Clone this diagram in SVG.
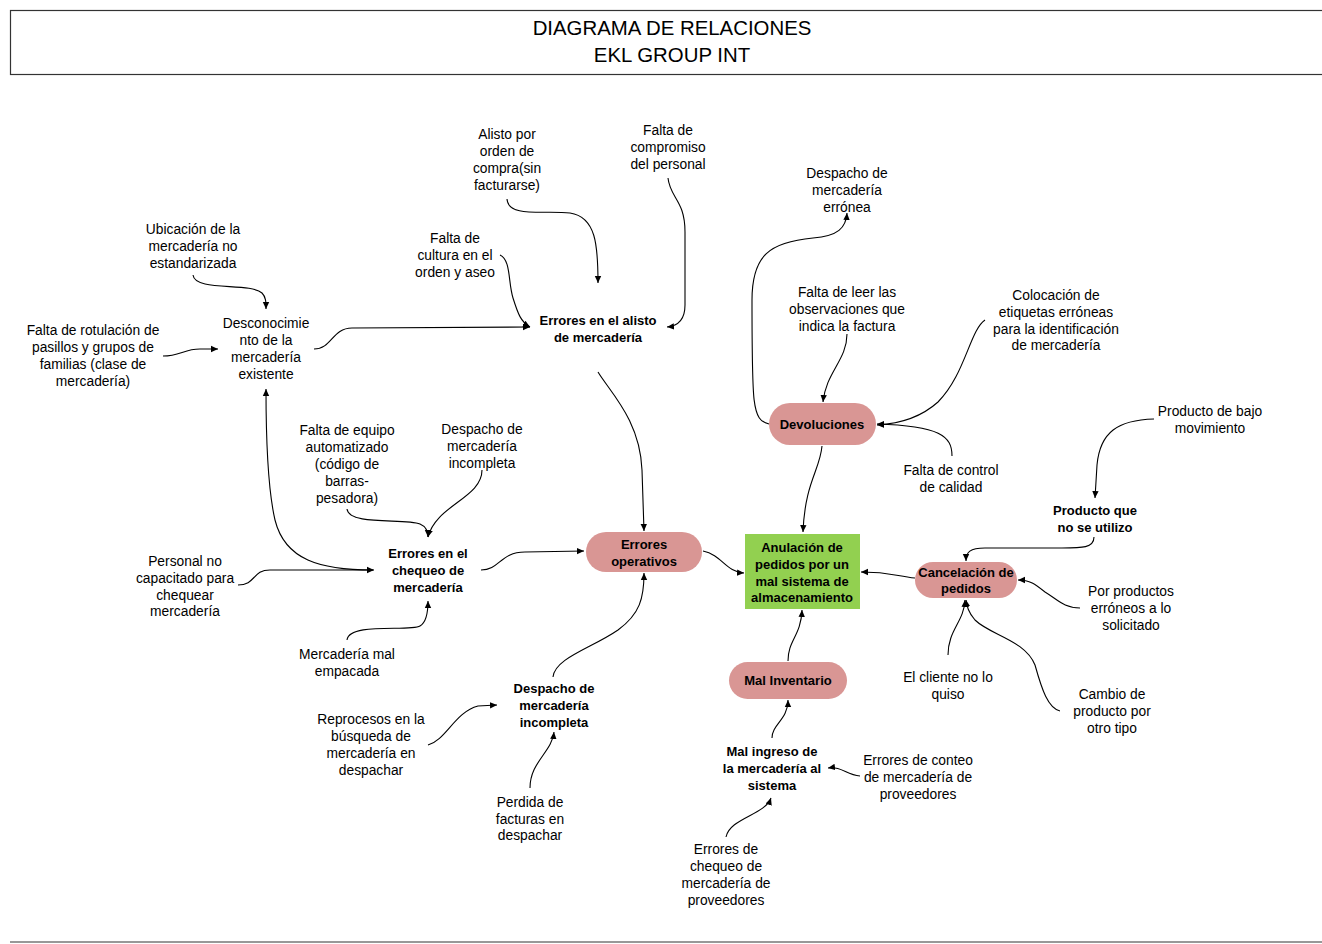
<svg xmlns="http://www.w3.org/2000/svg" width="1322" height="944" viewBox="0 0 1322 944">
<style>
  text { font-family: "Liberation Sans", Arial, sans-serif; fill: #000; text-anchor: middle; }
  .t { font-size: 13.8px; }
  .b { font-size: 13px; font-weight: bold; }
  .title { font-size: 20.4px; }
  .pill { fill: #d99694; }
  .goal { fill: #92d050; }
  .c { fill: none; stroke: #000; stroke-width: 1.1; marker-end: url(#ah); }
</style>
<defs>
  <marker id="ah" markerUnits="userSpaceOnUse" markerWidth="8" markerHeight="8" refX="7" refY="4" orient="auto">
    <path d="M0,0.8 L7,4 L0,7.2 Z" fill="#000"/>
  </marker>
</defs>
<rect width="1322" height="944" fill="#fff"/>

<!-- header frame -->
<g id="header">
  <rect x="10.5" y="10.5" width="1320" height="64" fill="none" stroke="#333" stroke-width="1.2"/>
  <text class="title" x="672" y="35">DIAGRAMA DE RELACIONES</text>
  <text class="title" x="672" y="62">EKL GROUP INT</text>
</g>
<line x1="10" y1="942" x2="1322" y2="942" stroke="#333" stroke-width="1.2"/>

<!-- connectors -->
<g id="connectors">
  <path class="c" d="M193,275 C195,292 250,282 262,293 C266,297 266,302 266,309"/>
  <path class="c" d="M163,356 C180,356 184,349 200,349 L218,349"/>
  <path class="c" d="M314,349 C332,349 332,328 352,328 L530,327"/>
  <path class="c" d="M507,199 C508,218 545,210 570,213 C596,217 598,245 598,283"/>
  <path class="c" d="M668,178 C670,198 685,200 685,232 L685,305 C685,320 678,326 667,327"/>
  <path class="c" d="M500,255 C511,260 508,282 513,298 C518,314 521,322 530,327"/>
  <path class="c" d="M373,570 C320,570 285,560 275,520 C268,490 266,440 266,389"/>
  <path class="c" d="M238,585 C256,585 252,570 270,570 L374,570"/>
  <path class="c" d="M347,509 C349,526 405,518 420,524 C427,527 428,532 428,537"/>
  <path class="c" d="M482,470 C482,498 436,505 428,537"/>
  <path class="c" d="M347,640 C349,622 410,632 420,626 C427,622 428,610 428,601"/>
  <path class="c" d="M481,570 C500,570 500,552 525,552 L584,551"/>
  <path class="c" d="M598,372 C610,392 640,420 642,470 L644,531"/>
  <path class="c" d="M553,677 C555,658 592,648 618,630 C640,614 644,598 644,573"/>
  <path class="c" d="M703,551 C722,555 726,572 744,573"/>
  <path class="c" d="M822,446 C820,470 805,482 803,532"/>
  <path class="c" d="M788,661 C788,640 801,636 802,610"/>
  <path class="c" d="M915,578 C896,576 890,572 861,572"/>
  <path class="c" d="M769,424 C752,420 752,405 752,300 C752,255 770,242 813,238 C838,236 846,228 847,213"/>
  <path class="c" d="M847,334 C847,360 826,372 823,402"/>
  <path class="c" d="M985,320 C970,330 965,375 938,402 C918,420 895,424 877,425"/>
  <path class="c" d="M952,456 C952,436 940,426 877,424"/>
  <path class="c" d="M1154,419 C1118,420 1100,432 1097,465 L1095,498"/>
  <path class="c" d="M1094,537 C1094,548 1082,548 1062,548 L985,548 C970,548 966,552 966,561"/>
  <path class="c" d="M1080,608 C1064,608 1058,600 1045,592 C1035,584 1030,580 1018,580"/>
  <path class="c" d="M948,655 C948,630 964,622 965,600"/>
  <path class="c" d="M1060,711 C1048,708 1042,690 1035,665 C1025,640 990,635 975,620 C968,612 967,606 966,600"/>
  <path class="c" d="M428,745 C446,740 455,712 478,706 L497,705"/>
  <path class="c" d="M530,788 C530,762 552,752 554,732"/>
  <path class="c" d="M772,738 C772,724 788,720 788,700"/>
  <path class="c" d="M860,776 C846,775 842,766 828,768"/>
  <path class="c" d="M726,837 C730,818 765,815 771,798"/>
</g>

<!-- nodes -->
<g id="ubicacion"><text class="t"><tspan x="193" y="234">Ubicación de la</tspan><tspan x="193" y="251">mercadería no</tspan><tspan x="193" y="268">estandarizada</tspan></text></g>
<g id="rotulacion"><text class="t"><tspan x="93" y="335">Falta de rotulación de</tspan><tspan x="93" y="352">pasillos y grupos de</tspan><tspan x="93" y="369">familias (clase de</tspan><tspan x="93" y="386">mercadería)</tspan></text></g>
<g id="desconocimiento"><text class="t"><tspan x="266" y="328">Desconocimie</tspan><tspan x="266" y="345">nto de la</tspan><tspan x="266" y="362">mercadería</tspan><tspan x="266" y="379">existente</tspan></text></g>
<g id="alisto-orden"><text class="t"><tspan x="507" y="139">Alisto por</tspan><tspan x="507" y="156">orden de</tspan><tspan x="507" y="173">compra(sin</tspan><tspan x="507" y="190">facturarse)</tspan></text></g>
<g id="compromiso"><text class="t"><tspan x="668" y="135">Falta de</tspan><tspan x="668" y="152">compromiso</tspan><tspan x="668" y="169">del personal</tspan></text></g>
<g id="cultura"><text class="t"><tspan x="455" y="243">Falta de</tspan><tspan x="455" y="260">cultura en el</tspan><tspan x="455" y="277">orden y aseo</tspan></text></g>
<g id="errores-alisto"><text class="b"><tspan x="598" y="325">Errores en el alisto</tspan><tspan x="598" y="342">de mercadería</tspan></text></g>
<g id="despacho-erronea"><text class="t"><tspan x="847" y="178">Despacho de</tspan><tspan x="847" y="195">mercadería</tspan><tspan x="847" y="212">errónea</tspan></text></g>
<g id="leer-observaciones"><text class="t"><tspan x="847" y="297">Falta de leer las</tspan><tspan x="847" y="314">observaciones que</tspan><tspan x="847" y="331">indica la factura</tspan></text></g>
<g id="etiquetas"><text class="t"><tspan x="1056" y="300">Colocación de</tspan><tspan x="1056" y="317">etiquetas erróneas</tspan><tspan x="1056" y="334">para la identificación</tspan><tspan x="1056" y="350">de mercadería</tspan></text></g>
<g id="devoluciones"><rect class="pill" x="769" y="403" width="107" height="42" rx="21"/><text class="b" x="822" y="429">Devoluciones</text></g>
<g id="control-calidad"><text class="t"><tspan x="951" y="475">Falta de control</tspan><tspan x="951" y="492">de calidad</tspan></text></g>
<g id="bajo-movimiento"><text class="t"><tspan x="1210" y="416">Producto de bajo</tspan><tspan x="1210" y="433">movimiento</tspan></text></g>
<g id="producto-no-utilizo"><text class="b"><tspan x="1095" y="515">Producto que</tspan><tspan x="1095" y="532">no se utilizo</tspan></text></g>
<g id="cancelacion"><rect class="pill" x="915" y="562" width="102" height="36" rx="18"/><text class="b"><tspan x="966" y="577">Cancelación de</tspan><tspan x="966" y="593">pedidos</tspan></text></g>
<g id="productos-erroneos"><text class="t"><tspan x="1131" y="596">Por productos</tspan><tspan x="1131" y="613">erróneos a lo</tspan><tspan x="1131" y="630">solicitado</tspan></text></g>
<g id="cliente"><text class="t"><tspan x="948" y="682">El cliente no lo</tspan><tspan x="948" y="699">quiso</tspan></text></g>
<g id="cambio-producto"><text class="t"><tspan x="1112" y="699">Cambio de</tspan><tspan x="1112" y="716">producto por</tspan><tspan x="1112" y="733">otro tipo</tspan></text></g>
<g id="anulacion"><rect class="goal" x="745" y="534" width="115" height="75"/><text class="b"><tspan x="802" y="552">Anulación de</tspan><tspan x="802" y="569">pedidos por un</tspan><tspan x="802" y="586">mal sistema de</tspan><tspan x="802" y="602">almacenamiento</tspan></text></g>
<g id="errores-operativos"><rect class="pill" x="586" y="532" width="116" height="40" rx="20"/><text class="b"><tspan x="644" y="549">Errores</tspan><tspan x="644" y="566">operativos</tspan></text></g>
<g id="equipo"><text class="t"><tspan x="347" y="435">Falta de equipo</tspan><tspan x="347" y="452">automatizado</tspan><tspan x="347" y="469">(código de</tspan><tspan x="347" y="486">barras-</tspan><tspan x="347" y="503">pesadora)</tspan></text></g>
<g id="despacho-incompleta-causa"><text class="t"><tspan x="482" y="434">Despacho de</tspan><tspan x="482" y="451">mercadería</tspan><tspan x="482" y="468">incompleta</tspan></text></g>
<g id="errores-chequeo"><text class="b"><tspan x="428" y="558">Errores en el</tspan><tspan x="428" y="575">chequeo de</tspan><tspan x="428" y="592">mercadería</tspan></text></g>
<g id="personal"><text class="t"><tspan x="185" y="566">Personal no</tspan><tspan x="185" y="583">capacitado para</tspan><tspan x="185" y="600">chequear</tspan><tspan x="185" y="616">mercadería</tspan></text></g>
<g id="mal-empacada"><text class="t"><tspan x="347" y="659">Mercadería mal</tspan><tspan x="347" y="676">empacada</tspan></text></g>
<g id="despacho-incompleta"><text class="b"><tspan x="554" y="693">Despacho de</tspan><tspan x="554" y="710">mercadería</tspan><tspan x="554" y="727">incompleta</tspan></text></g>
<g id="reprocesos"><text class="t"><tspan x="371" y="724">Reprocesos en la</tspan><tspan x="371" y="741">búsqueda de</tspan><tspan x="371" y="758">mercadería en</tspan><tspan x="371" y="775">despachar</tspan></text></g>
<g id="perdida-facturas"><text class="t"><tspan x="530" y="807">Perdida de</tspan><tspan x="530" y="824">facturas en</tspan><tspan x="530" y="840">despachar</tspan></text></g>
<g id="mal-inventario"><rect class="pill" x="729" y="662" width="118" height="37" rx="18.5"/><text class="b" x="788" y="685">Mal Inventario</text></g>
<g id="mal-ingreso"><text class="b"><tspan x="772" y="756">Mal ingreso de</tspan><tspan x="772" y="773">la mercadería al</tspan><tspan x="772" y="790">sistema</tspan></text></g>
<g id="conteo"><text class="t"><tspan x="918" y="765">Errores de conteo</tspan><tspan x="918" y="782">de mercadería de</tspan><tspan x="918" y="799">proveedores</tspan></text></g>
<g id="chequeo-proveedores"><text class="t"><tspan x="726" y="854">Errores de</tspan><tspan x="726" y="871">chequeo de</tspan><tspan x="726" y="888">mercadería de</tspan><tspan x="726" y="905">proveedores</tspan></text></g>
</svg>
